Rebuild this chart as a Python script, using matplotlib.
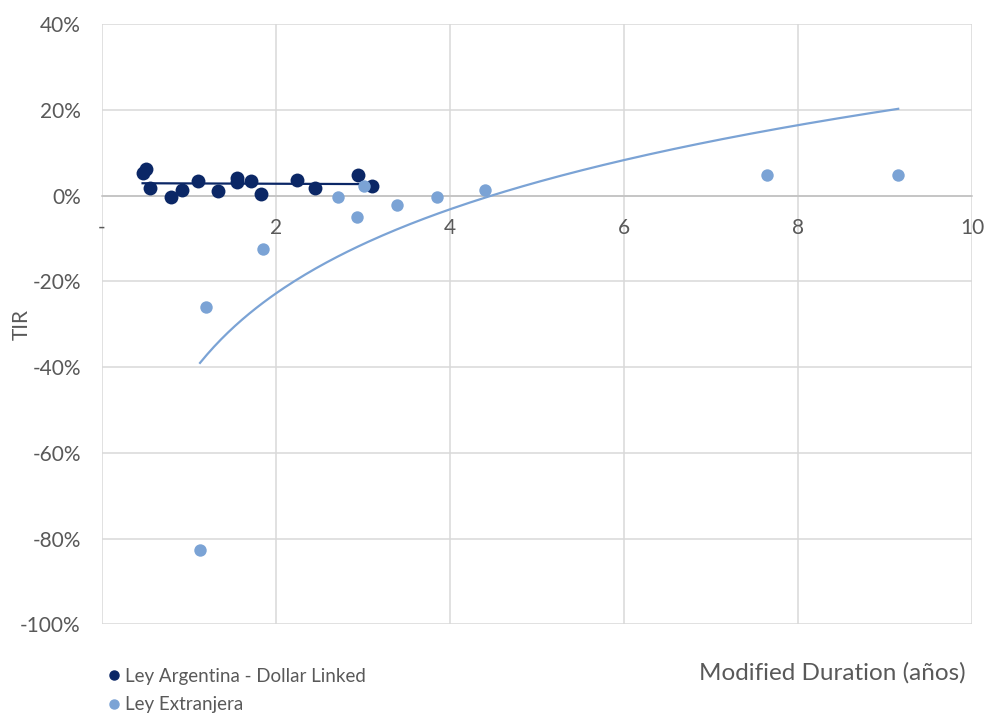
import matplotlib
matplotlib.use('Agg')
import matplotlib.pyplot as plt
from matplotlib.lines import Line2D
from matplotlib.ticker import FuncFormatter
import numpy as np

# Ley Argentina - Dollar Linked (duration en años, TIR en %)
dl_dur = np.array([0.47, 0.51, 0.56, 0.80, 0.92, 1.11, 1.34, 1.56, 1.56, 1.72, 1.83,
                   2.24, 2.45, 2.95, 3.11])
dl_tir = np.array([5.3, 6.1, 1.8, -0.3, 1.2, 3.3, 1.0, 4.1, 3.1, 3.3, 0.4,
                   3.7, 1.8, 4.7, 2.2])

# Ley Extranjera
ext_dur = np.array([1.13, 1.20, 1.85, 2.71, 2.93, 3.01, 3.39, 3.85, 4.40, 7.64, 9.15])
ext_tir = np.array([-82.7, -26.1, -12.4, -0.3, -5.1, 2.2, -2.3, -0.3, 1.2, 4.7, 4.7])

dark = '#0B2766'
light = '#7BA3D5'
grey = '#595959'

plt.rcParams['font.family'] = ['Lato', 'DejaVu Sans']

fig = plt.figure(figsize=(9.87, 7.16), dpi=100)
ax = fig.add_axes([0.103, 0.128, 0.882, 0.8385])

# tendencias (lineal y logarítmica, como en Excel)
p_dl = np.polyfit(dl_dur, dl_tir, 1)
xd = np.linspace(dl_dur.min(), dl_dur.max(), 50)
ax.plot(xd, np.polyval(p_dl, xd), color=dark, lw=1.6, zorder=3)

p_ext = np.polyfit(np.log(ext_dur), ext_tir, 1)
xe = np.linspace(ext_dur.min(), ext_dur.max(), 200)
ax.plot(xe, p_ext[0] * np.log(xe) + p_ext[1], color=light, lw=1.6, zorder=3)

ax.scatter(dl_dur, dl_tir, s=100, color=dark, zorder=4, linewidths=0)
ax.scatter(ext_dur, ext_tir, s=80, color=light, zorder=4, linewidths=0)

ax.set_xlim(0, 10)
ax.set_ylim(-100, 40)
ax.set_xticks(np.arange(0, 11, 2))
ax.set_yticks(np.arange(-100, 41, 20))
ax.xaxis.set_major_formatter(FuncFormatter(lambda v, p: '-' if v == 0 else f'{v:g}'))
ax.yaxis.set_major_formatter(FuncFormatter(lambda v, p: f'{v:.0f}%'))
ax.grid(True, color='#D9D9D9', lw=1.1, zorder=0)
ax.set_axisbelow(True)

for s in ['top', 'right', 'left']:
    ax.spines[s].set_visible(False)
ax.spines['bottom'].set_position(('data', 0))
ax.spines['bottom'].set_color('#BFBFBF')
ax.spines['bottom'].set_linewidth(1.1)
ax.tick_params(axis='x', length=0, pad=16, labelsize=15, labelcolor=grey)
ax.tick_params(axis='y', length=0, pad=15, labelsize=15, labelcolor=grey)

fig.text(22 / 987, 1 - 325 / 716, 'TIR', fontsize=15, color=grey,
         rotation=90, ha='center', va='center')
fig.text(0.978, 1 - 673 / 716, 'Modified Duration (años)', fontsize=17.5, color=grey,
         ha='right', va='center')

handles = [Line2D([], [], ls='', marker='o', ms=6.5, color=dark),
           Line2D([], [], ls='', marker='o', ms=6.5, color=light)]
fig.legend(handles, ['Ley Argentina - Dollar Linked', 'Ley Extranjera'],
           loc='center left', bbox_to_anchor=(0.111, 1 - 690.5 / 716), frameon=False,
           fontsize=13.5, labelcolor=grey, handlelength=0.5, handletextpad=0.35,
           labelspacing=0.6, borderaxespad=0, borderpad=0)

fig.savefig('out.png', dpi=100)
